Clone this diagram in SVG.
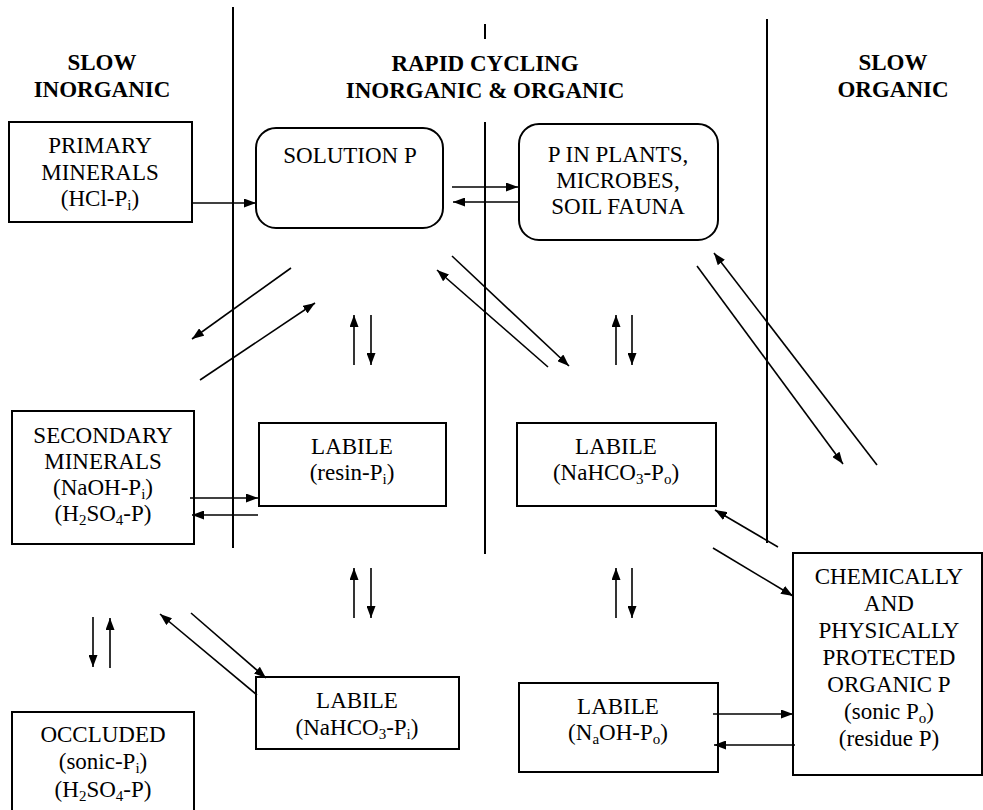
<svg xmlns="http://www.w3.org/2000/svg" width="983" height="810" viewBox="0 0 983 810">
<defs>
<marker id="ah" markerUnits="userSpaceOnUse" markerWidth="13" markerHeight="9" refX="12" refY="4.5" orient="auto">
<path d="M0,0 L12,4.5 L0,9 z" fill="#000"/>
</marker>
<style>
text{font-family:"Liberation Serif","Times New Roman",serif;font-size:23px;fill:#000;text-anchor:middle}
.h{font-weight:bold}
.box{fill:#fff;stroke:#000;stroke-width:2}
.div{stroke:#000;stroke-width:2;fill:none}
.c line{stroke:#000;stroke-width:1.6;marker-end:url(#ah)}
.s{font-size:15px}
</style>
</defs>
<rect width="983" height="810" fill="#fff"/>
<g id="dividers">
<line class="div" x1="233" y1="7" x2="233" y2="548"/>
<line class="div" x1="485" y1="24" x2="485" y2="39"/>
<line class="div" x1="485" y1="122" x2="485" y2="554"/>
<line class="div" x1="767" y1="19" x2="767" y2="543"/>
</g>
<g id="headers">
<text class="h" x="102" y="70">SLOW</text>
<text class="h" x="102" y="97">INORGANIC</text>
<text class="h" x="485" y="71">RAPID CYCLING</text>
<text class="h" x="485" y="98">INORGANIC &amp; ORGANIC</text>
<text class="h" x="893" y="70">SLOW</text>
<text class="h" x="893" y="97">ORGANIC</text>
</g>
<g id="primary">
<rect class="box" x="9" y="122" width="183" height="100"/>
<text x="100" y="153">PRIMARY</text>
<text x="100" y="180">MINERALS</text>
<text x="100" y="206">(HCl-P<tspan class="s" dy="4">i</tspan><tspan dy="-4">)</tspan></text>
</g>
<g id="solution">
<rect class="box" x="256" y="128" width="187" height="100" rx="20"/>
<text x="350" y="163">SOLUTION P</text>
</g>
<g id="plants">
<rect class="box" x="519" y="124" width="199" height="116" rx="20"/>
<text x="618" y="162">P IN PLANTS,</text>
<text x="618" y="188">MICROBES,</text>
<text x="618" y="214">SOIL FAUNA</text>
</g>
<g id="secondary">
<rect class="box" x="12" y="411" width="182" height="133"/>
<text x="103" y="443">SECONDARY</text>
<text x="103" y="469">MINERALS</text>
<text x="103" y="495">(NaOH-P<tspan class="s" dy="4">i</tspan><tspan dy="-4">)</tspan></text>
<text x="103" y="521">(H<tspan class="s" dy="4">2</tspan><tspan dy="-4">SO</tspan><tspan class="s" dy="4">4</tspan><tspan dy="-4">-P)</tspan></text>
</g>
<g id="labile-resin">
<rect class="box" x="259" y="423" width="187" height="83"/>
<text x="352" y="454">LABILE</text>
<text x="352" y="480">(resin-P<tspan class="s" dy="4">i</tspan><tspan dy="-4">)</tspan></text>
</g>
<g id="labile-nahco3-po">
<rect class="box" x="517" y="423" width="199" height="83"/>
<text x="616" y="454">LABILE</text>
<text x="616" y="480">(NaHCO<tspan class="s" dy="4">3</tspan><tspan dy="-4">-P</tspan><tspan class="s" dy="4">o</tspan><tspan dy="-4">)</tspan></text>
</g>
<g id="chemically">
<rect class="box" x="793" y="553" width="189" height="222"/>
<text x="889" y="584">CHEMICALLY</text>
<text x="889" y="611">AND</text>
<text x="889" y="638">PHYSICALLY</text>
<text x="889" y="665">PROTECTED</text>
<text x="889" y="692">ORGANIC P</text>
<text x="889" y="719">(sonic P<tspan class="s" dy="4">o</tspan><tspan dy="-4">)</tspan></text>
<text x="889" y="746">(residue P)</text>
</g>
<g id="occluded">
<rect class="box" x="12" y="712" width="182" height="110"/>
<text x="103" y="742">OCCLUDED</text>
<text x="103" y="769">(sonic-P<tspan class="s" dy="4">i</tspan><tspan dy="-4">)</tspan></text>
<text x="103" y="797">(H<tspan class="s" dy="4">2</tspan><tspan dy="-4">SO</tspan><tspan class="s" dy="4">4</tspan><tspan dy="-4">-P)</tspan></text>
</g>
<g id="labile-nahco3-pi">
<rect class="box" x="256" y="677" width="203" height="72"/>
<text x="357" y="708">LABILE</text>
<text x="357" y="735">(NaHCO<tspan class="s" dy="4">3</tspan><tspan dy="-4">-P</tspan><tspan class="s" dy="4">i</tspan><tspan dy="-4">)</tspan></text>
</g>
<g id="labile-naoh-po">
<rect class="box" x="519" y="683" width="199" height="89"/>
<text x="618" y="714">LABILE</text>
<text x="618" y="740">(N<tspan class="s" dy="4">a</tspan><tspan dy="-4">OH-P</tspan><tspan class="s" dy="4">o</tspan><tspan dy="-4">)</tspan></text>
</g>
<g id="connectors" class="c">
<line x1="192" y1="203" x2="256" y2="203"/>
<line x1="452" y1="187" x2="518" y2="187"/>
<line x1="518" y1="202" x2="453" y2="202"/>
<line x1="291" y1="268" x2="192" y2="339"/>
<line x1="200" y1="380" x2="315" y2="303"/>
<line x1="354" y1="365" x2="354" y2="315"/>
<line x1="371" y1="315" x2="371" y2="365"/>
<line x1="452" y1="256" x2="569" y2="366"/>
<line x1="548" y1="367" x2="437" y2="270"/>
<line x1="616" y1="365" x2="616" y2="315"/>
<line x1="632" y1="315" x2="632" y2="365"/>
<line x1="697" y1="266" x2="843" y2="464"/>
<line x1="877" y1="465" x2="714" y2="253"/>
<line x1="190" y1="498" x2="258" y2="498"/>
<line x1="258" y1="515" x2="192" y2="515"/>
<line x1="778" y1="547" x2="715" y2="510"/>
<line x1="713" y1="548" x2="793" y2="596"/>
<line x1="354" y1="618" x2="354" y2="568"/>
<line x1="371" y1="568" x2="371" y2="618"/>
<line x1="616" y1="618" x2="616" y2="568"/>
<line x1="632" y1="568" x2="632" y2="618"/>
<line x1="93" y1="617" x2="93" y2="667"/>
<line x1="110" y1="668" x2="110" y2="618"/>
<line x1="257" y1="695" x2="160" y2="614"/>
<line x1="191" y1="613" x2="266" y2="678"/>
<line x1="713" y1="714" x2="793" y2="714"/>
<line x1="795" y1="745" x2="714" y2="745"/>
</g>
</svg>
